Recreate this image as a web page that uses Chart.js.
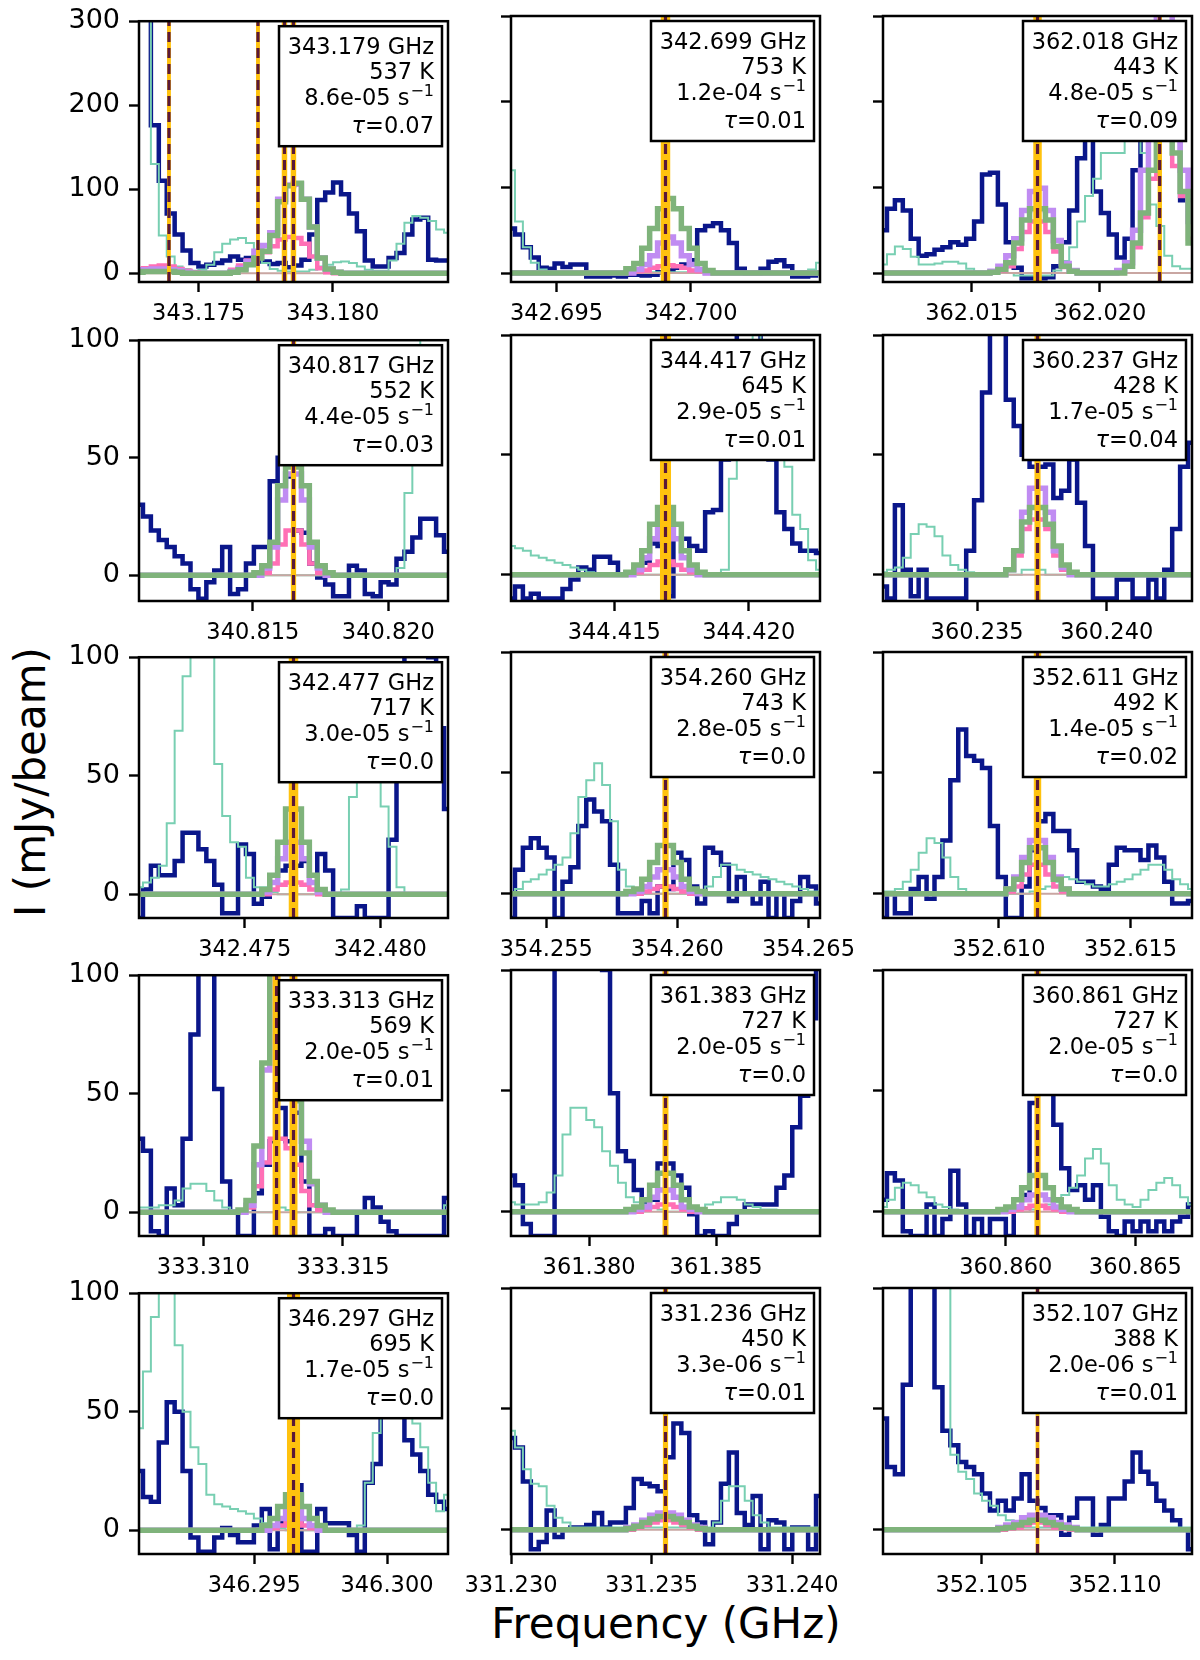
<!DOCTYPE html>
<html><head><meta charset="utf-8">
<script src="https://cdn.jsdelivr.net/npm/chart.js@4.4.1/dist/chart.umd.min.js"></script>
<style>
html,body{margin:0;padding:0;background:#fff;}
#fig{position:relative;width:1200px;height:1660px;background:#fff;overflow:hidden;font-family:'DejaVu Sans',sans-serif;}
#fig canvas{position:absolute;}
.title{position:absolute;font-size:42px;color:#000;white-space:nowrap;line-height:1;font-family:'DejaVu Sans',sans-serif;}
#xt{left:666px;top:1624px;transform:translate(-50%,-50%);}
#yt{left:31px;top:782px;transform:translate(-50%,-50%) rotate(-90deg);}
</style></head><body><div id="fig">
<div class="title" id="xt">Frequency (GHz)</div>
<div class="title" id="yt">I (mJy/beam)</div>
</div>
<script>
// ---------------- DATA ----------------
const N_CH = 40;
const ROW_YMAX = [300, 100, 100, 100, 100];
const ROW_YMIN = [-10.5, -11, -10, -10, -10];
const ROW_YTICKS = [[0,100,200,300],[0,50,100],[0,50,100],[0,50,100],[0,50,100]];

const XMIN = [343.172778, 342.693308, 362.011543, 340.8108, 344.411162, 360.231368, 342.4711, 354.253653, 352.605596, 333.307694, 361.376925, 360.855263, 346.290663, 331.230, 352.101282];
const XMAX = [343.184293, 342.704798, 362.023590, 340.8222, 344.422652, 360.243289, 342.4825, 354.26544, 352.617332, 333.318762, 361.389091, 360.867184, 346.302296, 331.240990, 352.112897];
const XTICKS = [[343.175,343.180],[342.695,342.700],[362.015,362.020],[340.815,340.820],[344.415,344.420],[360.235,360.240],[342.475,342.480],[354.255,354.260,354.265],[352.610,352.615],[333.310,333.315],[361.380,361.385],[360.860,360.865],[346.295,346.300],[331.230,331.235,331.240],[352.105,352.110]];

const LINE_FREQ = [[343.173895,343.177212,343.178199,343.178533],[342.699053],[362.017567,362.02233],[340.8165],[344.416907],[360.237329],[342.4768],[354.259547],[352.611464],[333.312621,333.313228],[361.383008],[360.861224],[346.29648],[331.235495],[352.10709]];
const LINE_ERR = [[0.000074,0.000074,0.000111,0.000111],[0.000185],[0.00017,0.00009],[0.000105],[0.00021],[0.000125],[0.000185],[0.000125],[0.00015],[0.00015,0.00015],[0.000125],[0.000125],[0.00025],[0.0001],[0.00008]];

const LABEL_FREQ = ['343.179','342.699','362.018','340.817','344.417','360.237','342.477','354.260','352.611','333.313','361.383','360.861','346.297','331.236','352.107'];
const LABEL_EUP = [537,753,443,552,645,428,717,743,492,569,727,727,695,450,388];
const LABEL_AUL = ['8.6e-05','1.2e-04','4.8e-05','4.4e-05','2.9e-05','1.7e-05','3.0e-05','2.8e-05','1.4e-05','2.0e-05','2.0e-05','2.0e-05','1.7e-05','3.3e-06','2.0e-06'];
const LABEL_TAU = ['0.07','0.01','0.09','0.03','0.01','0.04','0.0','0.0','0.02','0.01','0.0','0.0','0.0','0.01','0.01'];

const NAVY = [
[400,400,176,110,71,46,27,12,8,10,12,15,20,16,18,16,14,11,12,7,9,16,46,87,96,108,94,71,50,15,8,8,18,24,46,64,66,16,15,15],
[52,45,30,18,6,5,11,7,10,10,-4,-4,-4,-3,-4,-2,-2,-3,-2,1,3,6,10,15,50,55,58,50,35,5,0,0,5,13,15,8,-4,-4,-3,0],
[50,75,85,73,40,20,22,27,30,36,33,40,60,115,117,80,36,6,-6,-6,-6,-5,8,36,73,134,200,95,70,45,18,40,120,200,200,200,200,200,85,85],
[30,25,19,15,12,8,5,-6,-10,-3,2,12,-8,-6,5,12,12,40,50,42,19,18,5,-1,-4,-9,-9,4,2,-8,-9,-3,-4,7,10,16,24,24,17,10],
[-10,-5,-10,-8,-10,-10,-10,-6,-2,3,2,7.5,7.5,5,0,1,2,5,13,12,-9,15,15,12,10,26,27,48,80,110,110,110,90,48,26,19,13,10,10,9],
[-5,-10,29,2,-9,2,-10,-10,-10,-10,-10,10,31,76,130,130,73,62,50,45,45,46,32,35,48,30,12,-10,-10,-10,-2,-2,-10,-10,-2,-10,2,19,45,55],
[-10,2,12,8,8,14,26,26,19,14,4,-8,-8,21,17,-4,-1,5,10,12,12,14,8,17,10,-10,-10,-10,-5,-10,-10,-10,23,80,120,120,120,100,70,36],
[-10,10,19,23,19,15,-10,5,11,28,39,34,30,12,-8,-8,-8,-3,-8,3,2,17,14,3,-4,19,17,12,-3,7,0,-4,5,-10,0,-10,-3,7,3,-4],
[-10,0,-8,-8,2,7,-2,7,22,47,68,57,55,52,28,7,-10,-10,3,18,30,33,26,26,18,5,5,3,2,12,19,18,18,14,20,15,5,-4,-4,-3],
[31,26,-8,-10,10,3,31,75,130,130,52,13,0,-10,-10,8,20,30,44,30,42,13,-10,-10,-7,-10,-10,-10,0,6,2,-4,-8,-10,-10,-10,-10,-10,-10,6],
[15,11,-5,-10,-10,-10,130,130,130,130,130,130,100,49,25,21,9,3,5,20,20,15,10,-1,-10,-8,-10,-10,-5,0,3,3,3,3,10,15,35,48,80,130],
[5,16,13,-8,-10,-10,3,-10,-3,17,3,-10,-3,-10,-3,-3,-10,2,7,45,60,50,36,18,9,11,5,11,-2,-8,-10,-4,-8,-4,-8,-4,-8,-4,-2,3],
[25,14,12,37,54,50,25,-3,-9,-9,-3,1,-2,-5,-5,2,9,-8,3,12,19,-9,-9,9,3,3,3,-2,-9,20,28,48,50,50,38,32,25,15,12,9],
[38,34,20,-8,-5,8,-3,0,1,1,2,7,1,3,3,9,21,19,18,16,30,44,40,6,3,-6,3,19,32,7,2,14,-8,4,3,-8,1,1,-8,14],
[46,26,23,60,130,130,130,59,41,35,28,26,23,15,8,12,8,13,23,12,9,6,6,-2,5,13,13,-2,2,13,13,20,32,24,19,12,8,4,0,-8]
];

const TEAL = [
[400,400,130,45,20,8,5,3,4,10,25,35,40,42,36,25,12,5,3,2,2,2,4,8,10,13,14,12,8,4,3,3,15,35,60,68,66,62,52,48],
[120,60,30,12,4,2,1,1,1,1,1,1,1,1,1,1,1,1,1,1,1,1,1,1,1,1,1,1,1,1,1,1,1,1,1,1,1,2,4,12],
[10,22,31,28,19,10,10,11,13,13,11,5,0,0,0,0,0,-3,-3,-3,-3,-3,3,14,30,60,90,110,140,140,140,160,160,140,80,55,20,8,5,5],
[0,0,0,0,0,0,0,0,0,0,0,0,0,0,0,0,0,0,0,0,0,0,0,0,0,0,0,0,0,0,0,0,0,3,35,80,120,120,120,110],
[12,11,10,8,7,6,5,4,3,2,1,0,0,0,0,0,0,0,0,0,0,0,0,0,0,0,0,2,40,80,95,100,95,80,60,45,25,19,6,2],
[1,2,3,7,17,21,20,16,8,4,2,1,0,0,0,0,0,0,2,2,2,0,0,0,0,0,0,0,0,0,0,0,0,0,0,0,0,0,0,0],
[3,5,7,12,30,69,92,130,130,120,55,33,22,20,7,3,3,1,0,0,0,0,0,0,0,0,2,41,60,60,50,37,20,3,0,0,0,0,0,0],
[0,2,5,6,8,10,12,15,25,40,47,54,45,30,10,3,0,0,0,0,0,0,0,0,0,3,7,12,12,10,9,8,7,6,5,4,3,2,1,1],
[1,1,2,5,10,17,23,21,15,7,2,0,0,0,0,0,0,0,0,1,2,3,5,7,6,5,4,3,3,4,5,6,8,10,12,12,10,6,4,2],
[2,2,2,3,3,5,10,12,12,9,5,2,1,0,0,0,0,0,2,1,0,0,0,0,0,0,0,0,0,0,0,0,0,0,0,0,0,0,0,3],
[4,3,3,3,4,8,15,32,43,43,38,35,25,19,12,6,4,3,2,1,0,0,0,0,0,3,4,6,6,5,3,2,1,1,0,0,0,0,0,0],
[2,5,10,12,11,8,6,3,2,1,0,0,0,0,0,0,0,0,0,1,2,3,4,7,10,15,22,26,20,11,5,3,2,5,9,12,14,11,6,3],
[43,67,90,130,130,78,50,35,28,15,11,10,9,8,7,5,3,2,1,0,0,0,0,0,0,0,0,0,2,20,41,60,65,65,60,45,35,20,8,15],
[41,34,25,19,18,10,5,3,1,1,1,1,1,1,1,1,1,1,1,1,1,1,1,1,1,1,3,12,18,18,12,6,3,1,1,1,1,1,1,1],
[130,130,130,100,130,130,130,130,130,31,24,21,15,12,10,6,4,2,1,1,1,1,1,1,1,1,1,1,1,1,1,1,1,1,1,1,1,1,1,1]
];

const GREEN = [
[1,2,2,2,2,1,0,0,0,0, 0,0,1,4,10,18,26,45,85,104, 107,88,55,18,5,1,0,0,0,0, 0,0,0,0,0,0,0,0,0,0],
[0,0,0,0,0,0,0,0,0,0, 0,0,0,0,0,5,11,29,52,75, 87,75,52,29,11,3,0,0,0,0, 0,0,0,0,0,0,0,0,0,0],
[0,0,0,0,0,0,0,0,0,0, 0,0,0,0,1,4,12,35,62,75, 75,62,31,8,2,0,0,0,0,0, 0,8,35,70,120,180,180,140,95,35],
[0,0,0,0,0,0,0,0,0,0, 0,0,0,0,0,1,4,14,38,46, 46,38,14,4,1,0,0,0,0,0, 0,0,0,0,0,0,0,0,0,0],
[0,0,0,0,0,0,0,0,0,0, 0,0,0,0,0,1,4,10,21,28, 28,21,10,4,1,0,0,0,0,0, 0,0,0,0,0,0,0,0,0,0],
[0,0,0,0,0,0,0,0,0,0, 0,0,0,0,0,0,2,10,22,28, 28,21,12,4,1,0,0,0,0,0, 0,0,0,0,0,0,0,0,0,0],
[0,0,0,0,0,0,0,0,0,0, 0,0,0,0,0,0,2,8,22,36, 36,22,8,2,0,0,0,0,0,0, 0,0,0,0,0,0,0,0,0,0],
[0,0,0,0,0,0,0,0,0,0, 0,0,0,0,0,1,2,6,13,20, 20,13,6,2,1,0,0,0,0,0, 0,0,0,0,0,0,0,0,0,0],
[0,0,0,0,0,0,0,0,0,0, 0,0,0,0,0,0,2,6,13,19, 19,13,6,2,0,0,0,0,0,0, 0,0,0,0,0,0,0,0,0,0],
[0,0,0,0,0,0,0,0,0,0, 0,0,0,1,5,28,63,130,130,130, 47,25,13,3,1,0,0,0,0,0, 0,0,0,0,0,0,0,0,0,0],
[0,0,0,0,0,0,0,0,0,0, 0,0,0,0,0,1,2,5,11,16, 16,11,5,2,1,0,0,0,0,0, 0,0,0,0,0,0,0,0,0,0],
[0,0,0,0,0,0,0,0,0,0, 0,0,0,0,0,1,2,5,10,15, 15,10,5,2,1,0,0,0,0,0, 0,0,0,0,0,0,0,0,0,0],
[0,0,0,0,0,0,0,0,0,0, 0,0,0,0,0,0,2,5,10,15, 15,10,5,2,0,0,0,0,0,0, 0,0,0,0,0,0,0,0,0,0],
[0,0,0,0,0,0,0,0,0,0, 0,0,0,0,0,0.5,1.5,3,4.5,5.5, 5.5,4.5,3,1.5,0.5,0,0,0,0,0, 0,0,0,0,0,0,0,0,0,0],
[0,0,0,0,0,0,0,0,0,0, 0,0,0,0,0,0.5,1,2,3,4, 4,3,2,1,0.5,0,0,0,0,0, 0,0,0,0,0,0,0,0,0,0]
];

const PURPLE = [
[2,4,5,5,4,3,1,0,0,0, 0,0,2,6,14,26,33,48,88,105, 106,88,55,18,5,1,0,0,0,0, 0,0,0,0,0,0,0,0,0,0],
[0,0,0,0,0,0,0,0,0,0, 0,0,0,0,0,0,4,10,20,35, 42,35,20,10,4,0,0,0,0,0, 0,0,0,0,0,0,0,0,0,0],
[0,0,0,0,0,0,0,0,0,0, 0,0,0,0,2,8,20,40,73,95, 99,73,38,11,3,0,0,0,0,0, 3,12,50,120,220,320,320,220,120,60],
[0,0,0,0,0,0,0,0,0,0, 0,0,0,0,0,0,3,12,32,43, 43,32,12,3,0,0,0,0,0,0, 0,0,0,0,0,0,0,0,0,0],
[0,0,0,0,0,0,0,0,0,0, 0,0,0,0,0,0,2,7,15,20, 20,15,7,2,0,0,0,0,0,0, 0,0,0,0,0,0,0,0,0,0],
[0,0,0,0,0,0,0,0,0,0, 0,0,0,0,0,0,2,10,26,36, 36,26,10,3,0,0,0,0,0,0, 0,0,0,0,0,0,0,0,0,0],
[0,0,0,0,0,0,0,0,0,0, 0,0,0,0,0,0,1,5,15,22, 22,15,5,1,0,0,0,0,0,0, 0,0,0,0,0,0,0,0,0,0],
[0,0,0,0,0,0,0,0,0,0, 0,0,0,0,0,0,1,3,7,10, 10,7,3,1,0,0,0,0,0,0, 0,0,0,0,0,0,0,0,0,0],
[0,0,0,0,0,0,0,0,0,0, 0,0,0,0,0,0,2,7,15,22, 22,15,7,2,0,0,0,0,0,0, 0,0,0,0,0,0,0,0,0,0],
[0,0,0,0,0,0,0,0,0,0, 0,0,0,0,3,20,60,150,160,150, 60,30,12,3,0,0,0,0,0,0, 0,0,0,0,0,0,0,0,0,0],
[0,0,0,0,0,0,0,0,0,0, 0,0,0,0,0,0,1,2,6,9, 9,6,2,1,0,0,0,0,0,0, 0,0,0,0,0,0,0,0,0,0],
[0,0,0,0,0,0,0,0,0,0, 0,0,0,0,0,0,1,2,5,7, 7,5,2,1,0,0,0,0,0,0, 0,0,0,0,0,0,0,0,0,0],
[0,0,0,0,0,0,0,0,0,0, 0,0,0,0,0,0,0,2,5,8, 8,5,2,0,0,0,0,0,0,0, 0,0,0,0,0,0,0,0,0,0],
[0,0,0,0,0,0,0,0,0,0, 0,0,0,0,0,1,2,4,6,7, 7,6,4,2,1,0,0,0,0,0, 0,0,0,0,0,0,0,0,0,0],
[0,0,0,0,0,0,0,0,0,0, 0,0,0,0,0,1,2,3,5,6, 6,5,3,2,1,0,0,0,0,0, 0,0,0,0,0,0,0,0,0,0]
];

const PINK = [
[3,6,8,9,8,5,3,1,0,0, 0,0,4,9,15,20,25,32,40,43, 42,35,20,6,1,0,0,0,0,0, 0,0,0,0,0,0,0,0,0,0],
[0,0,0,0,0,0,0,0,0,0, 0,0,0,0,0,0,2,3,6,8, 9,8,6,3,2,0,0,0,0,0, 0,0,0,0,0,0,0,0,0,0],
[0,0,0,0,0,0,0,0,0,0, 0,0,0,0,1,3,8,28,48,60, 60,48,25,7,2,0,0,0,0,0, 0,8,30,65,110,160,160,125,90,40],
[0,0,0,0,0,0,0,0,0,0, 0,0,0,0,0,0,1,5,13,19, 19,13,5,1,0,0,0,0,0,0, 0,0,0,0,0,0,0,0,0,0],
[0,0,0,0,0,0,0,0,0,0, 0,0,0,0,0,0,1,2,4,5.5, 5.5,4,2,1,0,0,0,0,0,0, 0,0,0,0,0,0,0,0,0,0],
[0,0,0,0,0,0,0,0,0,0, 0,0,0,0,0,0,2,8,19,23, 23,19,8,2,0,0,0,0,0,0, 0,0,0,0,0,0,0,0,0,0],
[0,0,0,0,0,0,0,0,0,0, 0,0,0,0,0,0,0,2,4,5, 5,4,2,0,0,0,0,0,0,0, 0,0,0,0,0,0,0,0,0,0],
[0,0,0,0,0,0,0,0,0,0, 0,0,0,0,0,0,0,1,2,3, 3,2,1,0,0,0,0,0,0,0, 0,0,0,0,0,0,0,0,0,0],
[0,0,0,0,0,0,0,0,0,0, 0,0,0,0,0,0,1,3,8,12, 12,8,3,1,0,0,0,0,0,0, 0,0,0,0,0,0,0,0,0,0],
[0,0,0,0,0,0,0,0,0,0, 0,0,0,0,2,11,21,31,31,27, 20,9,3,1,0,0,0,0,0,0, 0,0,0,0,0,0,0,0,0,0],
[0,0,0,0,0,0,0,0,0,0, 0,0,0,0,0,0,0,1,2,3, 3,2,1,0,0,0,0,0,0,0, 0,0,0,0,0,0,0,0,0,0],
[0,0,0,0,0,0,0,0,0,0, 0,0,0,0,0,0,0,1,1.5,2.5, 2.5,1.5,1,0,0,0,0,0,0,0, 0,0,0,0,0,0,0,0,0,0],
[0,0,0,0,0,0,0,0,0,0, 0,0,0,0,0,0,0,1,2,3, 3,2,1,0,0,0,0,0,0,0, 0,0,0,0,0,0,0,0,0,0],
[0,0,0,0,0,0,0,0,0,0, 0,0,0,0,0,0,1,2,3,4, 4,3,2,1,0,0,0,0,0,0, 0,0,0,0,0,0,0,0,0,0],
[0,0,0,0,0,0,0,0,0,0, 0,0,0,0,0,0,0.5,1,2,3, 3,2,1,0.5,0,0,0,0,0,0, 0,0,0,0,0,0,0,0,0,0]
];
const BASELINE = 0;

// ---------------- LAYOUT / STYLE ----------------
const COL_LEFT = [138.5, 511, 883];
const ROW_TOP = [16, 335, 652, 970, 1288];
const AX_W = 309, AX_H = 266;
const PAD_L = 80, PAD_T = 20, PAD_R = 50, PAD_B = 55;
const FONT = "'DejaVu Sans', sans-serif";
const C_NAVY = '#0a168a', C_TEAL = '#78cfb2', C_GREEN = '#7fb37b', C_PURPLE = '#c08cf2', C_PINK = '#ff6fb5', C_BASE = '#c9a6a2', C_ORANGE = '#ffc20e', C_DASH = '#5a1838';

Chart.defaults.font.family = FONT;

const framePlugin = {
  id: 'frame',
  afterDraw(chart, args, opts) {
    const p = opts.panel;
    const ctx = chart.ctx, a = chart.chartArea;
    const bw = 163, bh = 120;
    const bx = a.right - 6 - bw, by = a.top + 5;
    ctx.save();
    ctx.fillStyle = '#fff';
    ctx.fillRect(bx, by, bw, bh);
    ctx.lineWidth = 2.5; ctx.strokeStyle = '#000';
    ctx.strokeRect(bx, by, bw, bh);
    ctx.fillStyle = '#000';
    ctx.textBaseline = 'alphabetic';
    const rx = bx + bw - 8;
    const f = '22.5px ' + FONT;
    ctx.font = f; ctx.textAlign = 'right';
    ctx.fillText(LABEL_FREQ[p] + ' GHz', rx, by + 27.5);
    ctx.fillText(LABEL_EUP[p] + ' K', rx, by + 52.5);
    const fs = '16px ' + FONT;
    ctx.font = fs;
    const sup = '\u22121';
    const ws = ctx.measureText(sup).width;
    ctx.textAlign = 'left';
    ctx.fillText(sup, rx - ws, by + 69.5);
    ctx.font = f; ctx.textAlign = 'right';
    ctx.fillText(LABEL_AUL[p] + ' s', rx - ws - 1, by + 79);
    const rest = '=' + LABEL_TAU[p];
    const wr = ctx.measureText(rest).width;
    ctx.fillText(rest, rx, by + 107);
    ctx.font = 'italic 22.5px ' + FONT;
    ctx.fillText('\u03c4', rx - wr, by + 107);
    ctx.lineWidth = 2.5; ctx.strokeStyle = '#000';
    ctx.strokeRect(a.left, a.top, a.right - a.left, a.bottom - a.top);
    ctx.restore();
  }
};

const fig = document.getElementById('fig');

function stepSet(xs, vals, color, width, order) {
  return {
    type: 'line',
    data: vals.map((v, i) => ({x: xs[i], y: v})),
    borderColor: color, borderWidth: width, pointRadius: 0, pointHoverRadius: 0,
    stepped: 'middle', fill: false, order: order, clip: 0,
    borderJoinStyle: 'miter', borderCapStyle: 'butt'
  };
}

for (let p = 0; p < 15; p++) {
  const r = Math.floor(p / 3), c = p % 3;
  const W = PAD_L + AX_W + PAD_R, H = PAD_T + AX_H + PAD_B;
  const cv = document.createElement('canvas');
  cv.width = W; cv.height = H;
  cv.style.left = (COL_LEFT[c] - PAD_L) + 'px';
  cv.style.top = (ROW_TOP[r] - PAD_T) + 'px';
  cv.style.width = W + 'px'; cv.style.height = H + 'px';
  fig.appendChild(cv);

  const ymin = ROW_YMIN[r], ymax = ROW_YMAX[r];
  const xs = [];
  for (let i = 0; i < N_CH; i++) xs.push(XMIN[p] + i * (XMAX[p] - XMIN[p]) / (N_CH - 1));

  const datasets = [];
  datasets.push(stepSet(xs, NAVY[p], C_NAVY, 4.5, 7));
  datasets.push(stepSet(xs, TEAL[p], C_TEAL, 2, 6));
  datasets.push(stepSet(xs, xs.map(() => BASELINE), C_BASE, 2, 5));
  datasets.push(stepSet(xs, PINK[p], C_PINK, 4.5, 4));
  datasets.push(stepSet(xs, PURPLE[p], C_PURPLE, 5.5, 3));
  datasets.push(stepSet(xs, GREEN[p], C_GREEN, 5.5, 2));
  LINE_FREQ[p].forEach((fq, k) => {
    const e = LINE_ERR[p][k];
    datasets.push({
      type: 'line', data: [{x: fq - e, y: ymax}, {x: fq + e, y: ymax}],
      borderWidth: 0, borderColor: 'rgba(0,0,0,0)', backgroundColor: C_ORANGE,
      fill: 'start', pointRadius: 0, order: 1, clip: 0
    });
    datasets.push({
      type: 'line', data: [{x: fq, y: ymin}, {x: fq, y: ymax}],
      borderWidth: 3.2, borderColor: C_DASH, borderDash: [10, 6], borderCapStyle: 'butt',
      fill: false, pointRadius: 0, order: 0, clip: 0
    });
  });

  new Chart(cv, {
    type: 'line',
    data: {datasets},
    options: {
      responsive: false, animation: false, events: [],
      layout: {padding: {top: PAD_T, right: PAD_R, left: 0, bottom: 0}},
      plugins: {legend: {display: false}, tooltip: {enabled: false}, frame: {panel: p}},
      scales: {
        x: {
          type: 'linear', min: XMIN[p], max: XMAX[p],
          afterBuildTicks: s => { s.ticks = XTICKS[p].map(v => ({value: v})); },
          afterFit: s => { s.height = PAD_B; },
          ticks: {display: true, color: '#000', font: {size: 22.5, family: FONT}, padding: 9, maxRotation: 0, minRotation: 0, autoSkip: false,
                  callback: v => Number(v).toFixed(3)},
          grid: {display: true, drawOnChartArea: false, drawTicks: true, tickLength: 10, tickWidth: 2.4, tickColor: '#000'},
          border: {display: false}
        },
        y: {
          type: 'linear', min: ymin, max: ymax,
          afterBuildTicks: s => { s.ticks = ROW_YTICKS[r].map(v => ({value: v})); },
          afterFit: s => { s.width = PAD_L; },
          ticks: {display: c === 0, color: '#000', font: {size: 27, family: FONT}, padding: 9, callback: v => String(v)},
          grid: {display: true, drawOnChartArea: false, drawTicks: true, tickLength: 10, tickWidth: 2.4, tickColor: '#000'},
          border: {display: false}
        }
      }
    },
    plugins: [framePlugin]
  });
}
</script></body></html>
